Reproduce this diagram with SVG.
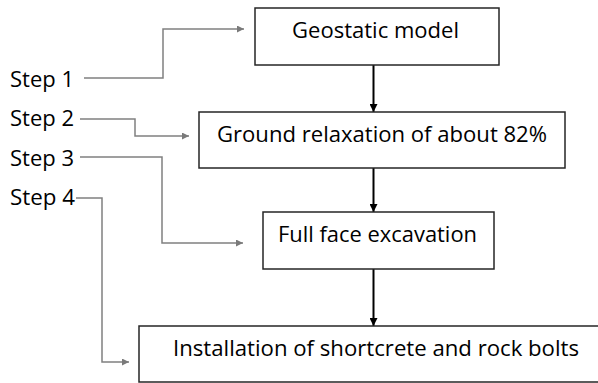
<svg xmlns="http://www.w3.org/2000/svg" width="598" height="383" viewBox="0 0 598 383">
<style>
.box{fill:#fff;stroke:#262626;stroke-width:1.5}
.t{font-family:"Open Sans",Lato,"Liberation Sans",sans-serif;font-size:22px;fill:#000}
.flow{fill:none;stroke:#000;stroke-width:2}
.step{fill:none;stroke:#808080;stroke-width:1.5}
</style>
<defs>
<marker id="ab" viewBox="0 0 10 10" refX="10" refY="5" markerWidth="9" markerHeight="8" markerUnits="userSpaceOnUse" orient="auto"><path d="M0,0 L10,5 L0,10 z" fill="#000"/></marker>
<marker id="ag" viewBox="0 0 10 10" refX="10" refY="5" markerWidth="9" markerHeight="7" markerUnits="userSpaceOnUse" orient="auto"><path d="M0,0 L10,5 L0,10 z" fill="#7a7a7a"/></marker>
</defs>
<rect width="598" height="383" fill="#fff"/>
<g id="connectors">
<path class="flow" d="M373.5,65 V112" marker-end="url(#ab)"/>
<path class="flow" d="M373.5,168 V212" marker-end="url(#ab)"/>
<path class="flow" d="M373.5,269 V326" marker-end="url(#ab)"/>
<path class="step" d="M84,78 H163 V29 H244" marker-end="url(#ag)"/>
<path class="step" d="M80,119 H135 V136 H189" marker-end="url(#ag)"/>
<path class="step" d="M80,157 H162 V243 H243" marker-end="url(#ag)"/>
<path class="step" d="M76,198 H102 V362 H129" marker-end="url(#ag)"/>
</g>
<g id="node1"><rect class="box" x="255" y="8" width="244" height="57"/><text class="t" x="292" y="38" textLength="167" lengthAdjust="spacingAndGlyphs">Geostatic model</text></g>
<g id="node2"><rect class="box" x="199" y="112" width="366" height="56"/><text class="t" x="217" y="142" textLength="330" lengthAdjust="spacingAndGlyphs">Ground relaxation of about 82%</text></g>
<g id="node3"><rect class="box" x="263" y="212" width="231" height="57"/><text class="t" x="278" y="242" textLength="199" lengthAdjust="spacingAndGlyphs">Full face excavation</text></g>
<g id="node4"><rect class="box" x="139" y="326" width="470" height="56"/><text class="t" x="173" y="356" textLength="406" lengthAdjust="spacingAndGlyphs">Installation of shortcrete and rock bolts</text></g>
<g id="step1"><text class="t" x="10" y="87" textLength="64" lengthAdjust="spacingAndGlyphs">Step 1</text></g>
<g id="step2"><text class="t" x="10" y="126" textLength="64" lengthAdjust="spacingAndGlyphs">Step 2</text></g>
<g id="step3"><text class="t" x="10" y="166" textLength="64" lengthAdjust="spacingAndGlyphs">Step 3</text></g>
<g id="step4"><text class="t" x="10" y="205" textLength="65" lengthAdjust="spacingAndGlyphs">Step 4</text></g>
</svg>
